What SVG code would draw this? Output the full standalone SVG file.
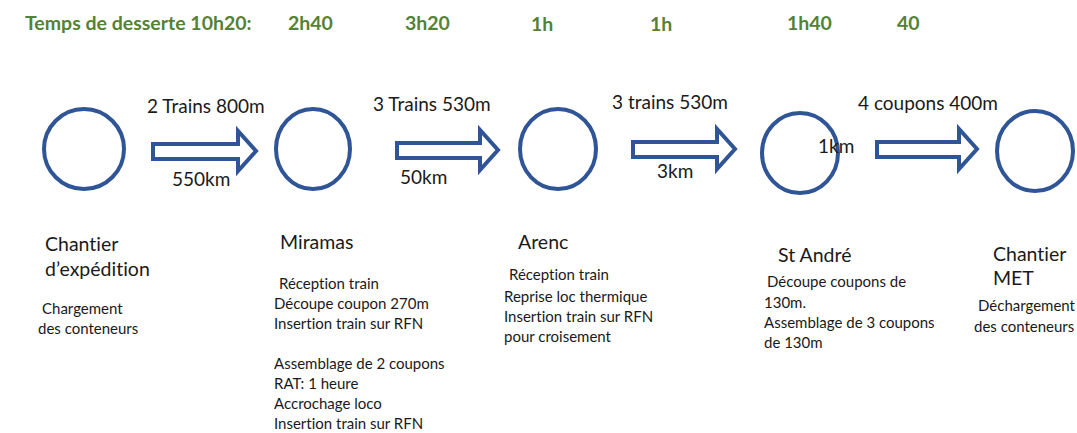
<svg xmlns="http://www.w3.org/2000/svg" width="1077" height="433" viewBox="0 0 1077 433">
<style>
text{font-variant-ligatures:none}
.c{fill:none;stroke:#2F5597;stroke-width:4}
.a{fill:#fff;stroke:#2F5597;stroke-width:4;stroke-linejoin:miter}
.g{font-family:Lato,"Open Sans",sans-serif;font-weight:bold;font-size:19.5px;fill:#548235}
.l{font-family:Lato,"Open Sans",sans-serif;font-size:19px;fill:#1a1a1a}
.t{font-family:Lato,"Open Sans",sans-serif;font-size:19.5px;fill:#1a1a1a}
.s{font-family:Lato,"Open Sans",sans-serif;font-size:15px;fill:#1a1a1a}
</style>
<rect width="1077" height="433" fill="#fff"/>
<g id="header">
<text class="g" x="25" y="30">Temps de desserte 10h20:</text>
<text class="g" x="288" y="30">2h40</text>
<text class="g" x="405" y="30">3h20</text>
<text class="g" x="531" y="31">1h</text>
<text class="g" x="650" y="31">1h</text>
<text class="g" x="787" y="30">1h40</text>
<text class="g" x="897" y="30">40</text>
</g>
<g id="connectors">
<path class="a" d="M153,144 H238 V131 L256,151 L238,171 V159 H153 Z"/>
<path class="a" d="M397,143 H480 V130 L498,150 L480,170 V158 H397 Z"/>
<path class="a" d="M633,142 H717 V129 L735,149 L717,169 V157 H633 Z"/>
<path class="a" d="M877,142 H959 V129 L977,149 L959,169 V157 H877 Z"/>
<text class="l" x="147" y="113">2 Trains 800m</text>
<text class="l" x="172" y="186">550km</text>
<text class="l" x="373" y="111">3 Trains 530m</text>
<text class="l" x="400" y="184">50km</text>
<text class="l" x="612" y="109">3 trains 530m</text>
<text class="l" x="657" y="178">3km</text>
<text class="l" x="858" y="110">4 coupons 400m</text>
</g>
<g id="node1">
<ellipse class="c" cx="84" cy="149" rx="40" ry="40"/>
<text class="t" x="45" y="251">Chantier</text>
<text class="t" x="45" y="276">d’expédition</text>
<text class="s" x="42" y="314">Chargement</text>
<text class="s" x="38" y="334">des conteneurs</text>
</g>
<g id="node2">
<ellipse class="c" cx="313" cy="149" rx="37" ry="40"/>
<text class="t" x="280" y="249">Miramas</text>
<text class="s" x="279" y="289">Réception train</text>
<text class="s" x="274" y="309">Découpe coupon 270m</text>
<text class="s" x="274" y="329">Insertion train sur RFN</text>
<text class="s" x="274" y="369">Assemblage de 2 coupons</text>
<text class="s" x="274" y="389">RAT: 1 heure</text>
<text class="s" x="274" y="409">Accrochage loco</text>
<text class="s" x="274" y="429">Insertion train sur RFN</text>
</g>
<g id="node3">
<ellipse class="c" cx="558" cy="149" rx="38" ry="40"/>
<text class="t" x="518" y="249">Arenc</text>
<text class="s" x="509" y="280">Réception train</text>
<text class="s" x="504" y="302">Reprise loc thermique</text>
<text class="s" x="504" y="322">Insertion train sur RFN</text>
<text class="s" x="504" y="342">pour croisement</text>
</g>
<g id="node4">
<ellipse class="c" cx="800" cy="153" rx="38" ry="40"/>
<text class="l" x="818" y="153">1km</text>
<text class="t" x="778" y="262">St André</text>
<text class="s" x="767" y="287">Découpe coupons de</text>
<text class="s" x="764" y="308">130m.</text>
<text class="s" x="764" y="328">Assemblage de 3 coupons</text>
<text class="s" x="764" y="348">de 130m</text>
</g>
<g id="node5">
<ellipse class="c" cx="1035" cy="151" rx="38" ry="40"/>
<text class="t" x="993" y="261">Chantier</text>
<text class="t" x="993" y="285">MET</text>
<text class="s" x="978" y="311">Déchargement</text>
<text class="s" x="974" y="332">des conteneurs</text>
</g>
</svg>
